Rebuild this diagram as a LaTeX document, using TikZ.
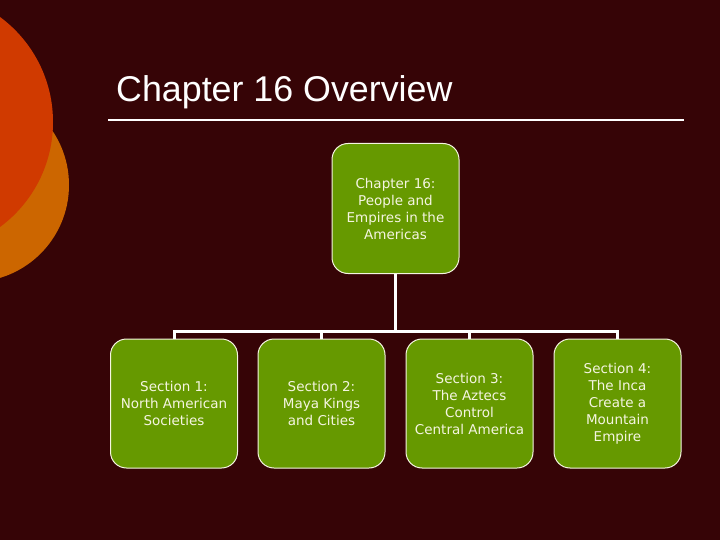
\documentclass[tikz,border=0pt]{standalone}
\usepackage{fontspec}
\setmainfont{Liberation Sans}
\newfontfamily\boxfont{DejaVu Sans}
\definecolor{bgmaroon}{RGB}{54,4,6}
\definecolor{redorange}{RGB}{208,58,0}
\definecolor{orangec}{RGB}{204,102,0}
\definecolor{olive}{RGB}{102,153,0}
\definecolor{cream}{RGB}{245,245,225}
\tikzset{
  box/.style={draw=cream, line width=1pt, fill=olive, rounded corners=16pt,
    minimum width=127pt, minimum height=129pt, inner sep=2pt, align=center,
    text=cream, font=\boxfont\fontsize{13.5}{17}\selectfont},
  link/.style={draw=white, line width=3pt}
}
\begin{document}
\begin{tikzpicture}[x=1pt,y=-1pt]
\useasboundingbox (0,0) rectangle (720,540);
\fill[bgmaroon] (0,0) rectangle (720,540);
\begin{scope}
\clip (0,0) rectangle (720,540);
\fill[orangec] (-28,185) circle (97);
\fill[redorange] (-77.5,122) circle (130.5);
\end{scope}
\node[anchor=base west, text=white, font=\fontsize{35.8}{40}\selectfont, inner sep=0] (title) at (116,102) {Chapter 16 Overview};
\coordinate (ulL) at (108,120);
\coordinate (ulR) at (684,120);
\draw[white, line width=2pt] (ulL) -- (ulR);

\node[box, minimum height=130pt] (top) at (395.5,208.5) {Chapter 16:\\People and\\Empires in the\\Americas};
\node[box] (s1) at (174,403.5) {Section 1:\\North American\\Societies};
\node[box] (s2) at (321.5,403.5) {Section 2:\\Maya Kings\\and Cities};
\node[box] (s3) at (469.5,403.5) {Section 3:\\The Aztecs\\Control\\Central America};
\node[box] (s4) at (617.5,403.5) {Section 4:\\The Inca\\Create a\\Mountain\\Empire};

\coordinate (bar) at (0,331);
\draw[link] (top.south) -- (top.south |- bar);
\draw[link] (s1.north) -- (s1.north |- bar) -- (s4.north |- bar) -- (s4.north);
\draw[link] (s2.north |- bar) -- (s2.north);
\draw[link] (s3.north |- bar) -- (s3.north);
\end{tikzpicture}
\end{document}
